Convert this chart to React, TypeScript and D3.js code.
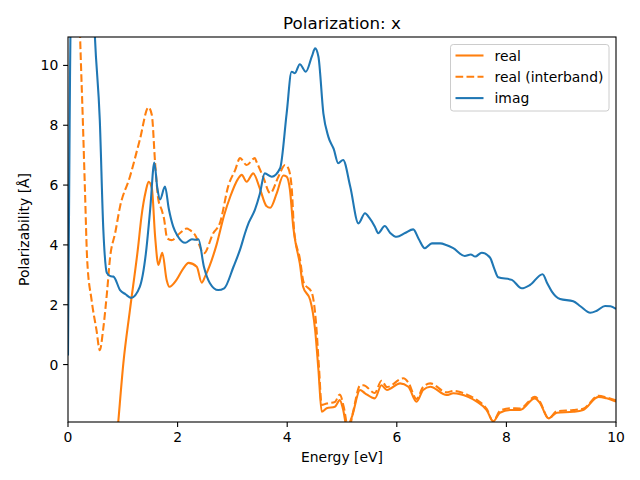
import React from "react";
import * as d3 from "d3";

const W = 640;
const H = 480;
const M = { left: 68, right: 616, top: 37, bottom: 422 };

const xTicks = [0, 2, 4, 6, 8, 10];
const yTicks = [0, 2, 4, 6, 8, 10];
const xDomain = [0, 10];
const yDomain = [-1.92, 10.95];

const seriesNames = ["real", "real (interband)", "imag"];
const seriesColors = ["#ff7f0e", "#ff7f0e", "#1f77b4"];

const realE = [0.6, 0.8, 0.92, 1.01, 1.13, 1.28, 1.34, 1.42, 1.47, 1.53, 1.59, 1.65, 1.72, 1.8, 1.85, 1.98, 2.1, 2.2, 2.35, 2.44, 2.5, 2.71, 2.85, 2.96, 3.1, 3.17, 3.26, 3.38, 3.5, 3.62, 3.69, 3.81, 3.93, 3.99, 4.05, 4.11, 4.15, 4.23, 4.29, 4.42, 4.51, 4.57, 4.63, 4.72, 4.87, 4.96, 5.02, 5.09, 5.18, 5.33, 5.42, 5.6, 5.72, 5.82, 6.06, 6.21, 6.36, 6.48, 6.61, 6.91, 7.03, 7.3, 7.46, 7.64, 7.76, 7.88, 8.07, 8.25, 8.52, 8.61, 8.77, 8.92, 9.22, 9.4, 9.68, 9.83, 10];
const realV = [-10, -4.5, -1.86, 0.04, 1.82, 3.94, 4.94, 5.8, 6.11, 5.89, 4.27, 3.33, 3.74, 2.83, 2.6, 2.83, 3.2, 3.4, 3.27, 2.74, 2.94, 4.0, 5.0, 5.61, 6.2, 6.34, 6.11, 6.39, 5.89, 5.3, 5.24, 5.73, 6.32, 6.28, 5.84, 4.61, 4.1, 3.38, 2.6, 2.16, 1.15, -0.18, -1.58, -1.46, -1.41, -1.19, -1.5, -2.1, -1.75, -0.85, -0.96, -1.13, -0.69, -0.85, -0.63, -0.74, -1.24, -0.85, -0.74, -1.02, -0.96, -1.08, -1.24, -1.52, -1.9, -1.61, -1.52, -1.52, -1.13, -1.28, -1.8, -1.61, -1.58, -1.52, -1.08, -1.13, -1.24];

const interE = [0.1, 0.22, 0.27, 0.31, 0.35, 0.43, 0.52, 0.58, 0.64, 0.71, 0.77, 0.86, 0.95, 1.13, 1.31, 1.47, 1.53, 1.59, 1.65, 1.71, 1.75, 1.81, 1.89, 2.04, 2.17, 2.22, 2.32, 2.48, 2.65, 2.77, 2.93, 3.05, 3.14, 3.26, 3.41, 3.44, 3.56, 3.69, 3.84, 3.96, 4.02, 4.08, 4.13, 4.23, 4.3, 4.45, 4.53, 4.58, 4.63, 4.72, 4.87, 4.96, 5.03, 5.12, 5.2, 5.33, 5.39, 5.6, 5.72, 5.82, 6.12, 6.21, 6.36, 6.48, 6.61, 6.91, 7.03, 7.3, 7.46, 7.64, 7.76, 7.88, 8.07, 8.25, 8.52, 8.61, 8.77, 8.92, 9.22, 9.4, 9.68, 9.83, 10];
const interV = [20, 11, 8.2, 5.8, 3.5, 2.16, 1.15, 0.48, 1.15, 2.38, 3.61, 4.39, 5.28, 6.28, 7.51, 8.6, 8.34, 6.73, 5.5, 5.17, 4.9, 4.22, 4.16, 4.39, 4.55, 4.5, 4.33, 3.72, 4.39, 4.72, 6.0, 6.5, 6.9, 6.67, 6.9, 6.78, 6.28, 5.73, 6.28, 6.67, 6.56, 5.95, 4.4, 3.55, 2.75, 2.4, 1.3, -0.1, -1.35, -1.3, -1.25, -1.0, -1.4, -2.2, -1.6, -0.7, -0.69, -0.95, -0.54, -0.75, -0.46, -0.6, -1.15, -0.75, -0.63, -0.93, -0.88, -1.02, -1.18, -1.48, -1.9, -1.55, -1.46, -1.47, -1.08, -1.24, -1.8, -1.56, -1.52, -1.48, -1.04, -1.1, -1.2];

const imagE = [0, 0.03, 0.06, 0.2, 0.4, 0.49, 0.58, 0.645, 0.71, 0.78, 0.83, 0.95, 1.05, 1.15, 1.31, 1.42, 1.5, 1.575, 1.63, 1.68, 1.77, 1.84, 1.92, 2.0, 2.14, 2.26, 2.33, 2.38, 2.48, 2.59, 2.74, 2.85, 3.02, 3.15, 3.23, 3.3, 3.41, 3.5, 3.59, 3.72, 3.87, 3.99, 4.08, 4.14, 4.23, 4.34, 4.45, 4.51, 4.57, 4.66, 4.75, 4.85, 4.93, 5.02, 5.15, 5.3, 5.42, 5.5, 5.6, 5.66, 5.78, 5.88, 6.0, 6.15, 6.3, 6.4, 6.51, 6.64, 6.79, 6.9, 7.03, 7.24, 7.35, 7.43, 7.55, 7.7, 7.78, 7.85, 8.1, 8.28, 8.43, 8.66, 8.75, 8.83, 8.98, 9.22, 9.35, 9.53, 9.65, 9.8, 9.9, 10];
const imagV = [0.3, 8, 14, 20, 16, 11, 8.18, 4.5, 3.06, 2.95, 2.94, 2.49, 2.35, 2.23, 2.6, 3.7, 5.2, 6.75, 5.9, 5.52, 5.95, 5.2, 4.61, 4.3, 4.07, 4.19, 4.17, 4.19, 3.27, 2.72, 2.49, 2.55, 3.27, 3.9, 4.39, 4.75, 5.17, 5.7, 6.39, 6.28, 6.56, 8.4, 9.79, 9.74, 10.04, 9.79, 10.3, 10.57, 10.29, 8.4, 7.62, 7.2, 6.73, 6.84, 5.95, 4.72, 5.06, 4.9, 4.61, 4.39, 4.63, 4.4, 4.27, 4.4, 4.52, 4.2, 3.89, 4.05, 4.05, 4.0, 3.89, 3.63, 3.68, 3.61, 3.74, 3.58, 3.2, 2.92, 2.83, 2.55, 2.66, 3.02, 2.7, 2.44, 2.19, 2.12, 1.95, 1.73, 1.8, 1.96, 1.95, 1.86];

const FONT = "DejaVu Sans, sans-serif";

export default function App() {
  const x = d3.scaleLinear().domain(xDomain).range([M.left, M.right]);
  const y = d3.scaleLinear().domain(yDomain).range([M.bottom, M.top]);
  const line = d3
    .line<[number, number]>()
    .x((d) => x(d[0]))
    .y((d) => y(d[1]))
    .curve(d3.curveMonotoneX);

  const zip = (a: number[], b: number[]) => a.map((v, i) => [v, b[i]] as [number, number]);
  const paths = [
    { d: line(zip(realE, realV)), color: seriesColors[0], dash: undefined },
    { d: line(zip(interE, interV)), color: seriesColors[1], dash: "7.7,3.3" },
    { d: line(zip(imagE, imagV)), color: seriesColors[2], dash: undefined },
  ];

  const legendX = 450.5;
  const legendY = 44.5;

  return (
    <svg width={W} height={H} style={{ display: "block", position: "absolute", left: 0, top: 0 }} fontFamily={FONT}>
      <rect x={0} y={0} width={W} height={H} fill="white" />
      <defs>
        <clipPath id="plotclip">
          <rect x={M.left} y={M.top} width={M.right - M.left} height={M.bottom - M.top} />
        </clipPath>
      </defs>
      <g clipPath="url(#plotclip)">
        {paths.map((p, i) => (
          <path key={i} d={p.d || ""} fill="none" stroke={p.color} strokeWidth={2.08} strokeDasharray={p.dash} strokeLinejoin="round" />
        ))}
      </g>
      <rect x={M.left} y={M.top} width={M.right - M.left} height={M.bottom - M.top} fill="none" stroke="black" strokeWidth={1.1} />
      {xTicks.map((t) => (
        <g key={"x" + t}>
          <line x1={x(t)} x2={x(t)} y1={M.bottom} y2={M.bottom + 4.9} stroke="black" strokeWidth={1.1} />
          <text x={x(t)} y={442} textAnchor="middle" fontSize={13.9} fill="black">
            {t}
          </text>
        </g>
      ))}
      {yTicks.map((t) => (
        <g key={"y" + t}>
          <line x1={M.left - 4.9} x2={M.left} y1={y(t)} y2={y(t)} stroke="black" strokeWidth={1.1} />
          <text x={58.3} y={y(t) + 5} textAnchor="end" fontSize={13.9} fill="black">
            {t}
          </text>
        </g>
      ))}
      <text x={(M.left + M.right) / 2} y={462} textAnchor="middle" fontSize={13.9} fill="black">
        Energy [eV]
      </text>
      <text transform={`translate(29,${(M.top + M.bottom) / 2}) rotate(-90)`} textAnchor="middle" fontSize={13.9} fill="black">
        Polarizability [Å]
      </text>
      <text x={(M.left + M.right) / 2} y={29} textAnchor="middle" fontSize={16.7} fill="black">
        Polarization: x
      </text>
      <g>
        <rect x={legendX} y={legendY} width={158.5} height={66.5} rx={2.8} fill="white" fillOpacity={0.8} stroke="#cccccc" strokeWidth={1} />
        {seriesNames.map((name, i) => {
          const ly = 55.5 + i * 21.3;
          return (
            <g key={name}>
              <line x1={455.5} x2={483.5} y1={ly} y2={ly} stroke={seriesColors[i]} strokeWidth={2.08} strokeDasharray={i === 1 ? "7.7,3.3" : undefined} />
              <text x={494.5} y={ly + 5} fontSize={13.9} fill="black">
                {name}
              </text>
            </g>
          );
        })}
      </g>
    </svg>
  );
}
